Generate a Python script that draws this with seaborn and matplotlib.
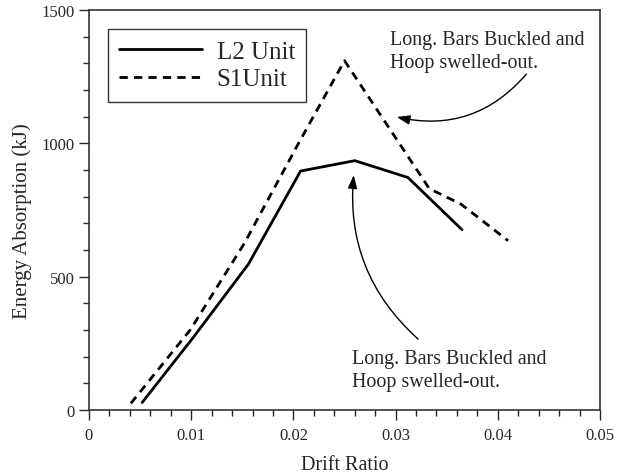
import matplotlib
matplotlib.use("Agg")
import matplotlib.pyplot as plt
import seaborn as sns
import pandas as pd

# drift ratio / energy absorption (kJ)
l2_drift = [0.0052, 0.0102, 0.0156, 0.0207, 0.0260, 0.0312, 0.0365]
l2_energy = [28, 272, 547, 896, 935, 872, 676]

s1_drift = [0.0041, 0.0099, 0.0152, 0.0205, 0.0250, 0.0333, 0.0364, 0.0410]
s1_energy = [25, 300, 625, 1000, 1310, 830, 772, 635]

note = "Long. Bars Buckled and\nHoop swelled-out."

df = pd.concat([
    pd.DataFrame({"drift": l2_drift, "energy": l2_energy, "unit": "L2 Unit"}),
    pd.DataFrame({"drift": s1_drift, "energy": s1_energy, "unit": "S1Unit"}),
])

sns.set_style("ticks")
plt.rcParams["font.family"] = ["Liberation Serif", "DejaVu Serif"]
plt.rcParams["axes.edgecolor"] = "#333333"

fig = plt.figure(figsize=(6.21, 4.77), dpi=100)
ax = fig.add_axes([0.1433, 0.1384, 0.8229, 0.8385])

sns.lineplot(data=df, x="drift", y="energy", hue="unit", style="unit",
             palette=["black", "black"], dashes=["", (3, 2.2)],
             sort=False, linewidth=2.0, ax=ax)

ax.set_xlim(0, 0.05)
ax.set_ylim(0, 1500)
ax.set_xticks([0, 0.01, 0.02, 0.03, 0.04, 0.05])
ax.set_xticklabels(["0", "0.01", "0.02", "0.03", "0.04", "0.05"])
ax.set_yticks([0, 500, 1000, 1500])
ax.set_xticks([i * 0.002 for i in range(26)], minor=True)
ax.set_yticks(list(range(0, 1501, 100)), minor=True)
ax.tick_params(which="major", length=7, width=1, labelsize=12, direction="out")
ax.tick_params(which="minor", length=4, width=1, direction="out")
ax.tick_params(axis="x", pad=5)
for s in ax.spines.values():
    s.set_visible(True)
    s.set_linewidth(1.2)

ax.set_xlabel("Drift Ratio", fontsize=14.5, va="baseline")
ax.xaxis.set_label_coords(0.5, -0.148)
ax.set_ylabel("Energy Absorption (kJ)", fontsize=15, va="center")
ax.yaxis.set_label_coords(-0.131, 0.474)

leg = ax.legend(loc="upper left", bbox_to_anchor=(0.037, 0.9525), fontsize=18,
                frameon=True, fancybox=False, handlelength=3.3,
                borderaxespad=0, borderpad=0.45, labelspacing=0.2,
                handletextpad=0.6)
leg.get_frame().set_edgecolor("black")
leg.get_frame().set_linewidth(1.0)
leg.set_title(None)

arrow = dict(arrowstyle="-|>,head_length=0.8,head_width=0.28", color="black",
             lw=1.0, shrinkA=0, shrinkB=0)

ax.annotate("", xy=(0.0301, 1099), xytext=(0.0428, 1260),
            arrowprops=dict(arrow, connectionstyle="arc3,rad=-0.3"))
ax.text(0.0295, 1425, note, fontsize=14.4, va="top", ha="left",
        linespacing=1.25)

ax.annotate("", xy=(0.0259, 881), xytext=(0.0322, 266),
            arrowprops=dict(arrow, connectionstyle="arc3,rad=-0.25"))
ax.text(0.0257, 228, note, fontsize=14.4, va="top", ha="left",
        linespacing=1.25)

fig.savefig("out.png", dpi=100)
